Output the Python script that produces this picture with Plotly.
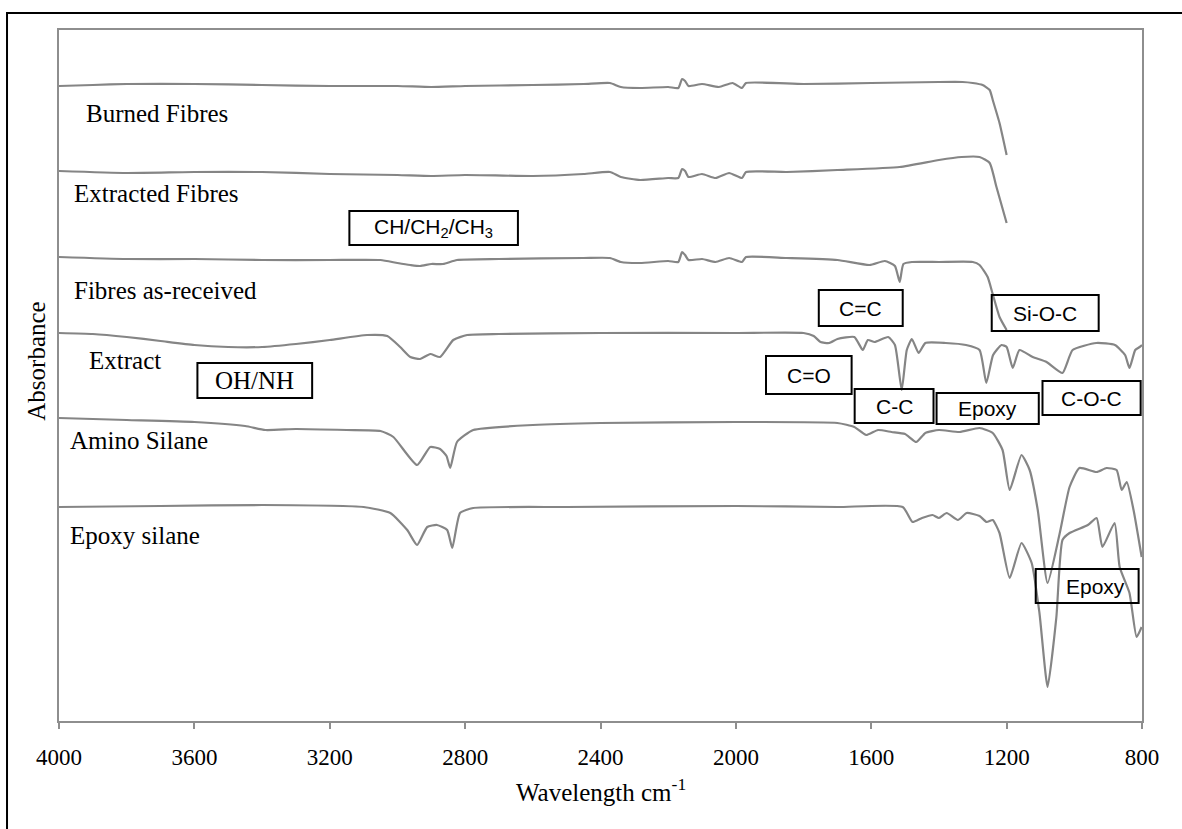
import plotly.graph_objects as go

# ---------------- data (wavenumber cm-1, absorbance a.u., offset spectra) ----------------
burned_wn = [4000, 3900, 3800, 3600, 3400, 3200, 3000, 2900, 2800, 2600, 2450, 2372, 2340, 2283, 2200,
             2170, 2159, 2150, 2140, 2100, 2050, 2010, 1982, 1970, 1800, 1600, 1400, 1330, 1300, 1271,
             1250, 1241, 1221, 1200]
burned_ab = [6.35, 6.36, 6.37, 6.37, 6.36, 6.35, 6.35, 6.34, 6.35, 6.36, 6.37, 6.38, 6.34, 6.33, 6.34,
             6.33, 6.42, 6.40, 6.35, 6.37, 6.34, 6.38, 6.33, 6.38, 6.37, 6.38, 6.39, 6.39, 6.38, 6.36,
             6.31, 6.21, 5.98, 5.66]

extracted_wn = [4000, 3800, 3600, 3400, 3200, 3000, 2900, 2800, 2600, 2450, 2372, 2340, 2283, 2200, 2170,
                2159, 2150, 2140, 2100, 2060, 2020, 1982, 1970, 1850, 1700, 1516, 1400, 1333, 1280, 1250,
                1230, 1200]
extracted_ab = [5.50, 5.48, 5.49, 5.49, 5.47, 5.46, 5.45, 5.46, 5.45, 5.47, 5.49, 5.44, 5.41, 5.43, 5.43,
                5.52, 5.50, 5.44, 5.47, 5.43, 5.48, 5.43, 5.49, 5.49, 5.51, 5.54, 5.61, 5.64, 5.64, 5.58,
                5.34, 4.98]

asrec_wn = [4000, 3800, 3600, 3400, 3200, 3050, 3000, 2962, 2933, 2900, 2865, 2824, 2700, 2450, 2372,
            2340, 2283, 2200, 2170, 2159, 2150, 2140, 2100, 2060, 2020, 1982, 1970, 1850, 1700, 1605,
            1560, 1530, 1516, 1505, 1480, 1400, 1300, 1280, 1256, 1242, 1221, 1200]
asrec_ab = [4.64, 4.62, 4.62, 4.61, 4.61, 4.61, 4.58, 4.56, 4.55, 4.57, 4.57, 4.61, 4.62, 4.63, 4.63,
            4.59, 4.58, 4.60, 4.59, 4.69, 4.66, 4.61, 4.62, 4.59, 4.63, 4.59, 4.64, 4.63, 4.61, 4.56,
            4.60, 4.55, 4.39, 4.57, 4.59, 4.59, 4.59, 4.56, 4.44, 4.28, 4.04, 3.91]

extract_wn = [4000, 3900, 3800, 3700, 3600, 3500, 3400, 3300, 3200, 3090, 3030, 2992, 2962, 2933, 2903,
              2874, 2835, 2794, 2700, 2400, 2000, 1800, 1770, 1750, 1725, 1700, 1650, 1625, 1610, 1590,
              1550, 1530, 1510, 1495, 1480, 1460, 1440, 1380, 1320, 1280, 1260, 1240, 1215, 1200, 1182,
              1162, 1123, 1082, 1035, 1005, 935, 880, 850, 837, 820, 807, 800]
extract_ab = [3.88, 3.87, 3.84, 3.80, 3.76, 3.74, 3.74, 3.77, 3.81, 3.86, 3.85, 3.74, 3.64, 3.62, 3.67,
              3.64, 3.81, 3.86, 3.87, 3.88, 3.88, 3.88, 3.85, 3.79, 3.78, 3.82, 3.84, 3.71, 3.81, 3.79,
              3.84, 3.76, 3.31, 3.71, 3.82, 3.68, 3.78, 3.78, 3.76, 3.71, 3.38, 3.66, 3.76, 3.74, 3.53,
              3.71, 3.64, 3.59, 3.48, 3.71, 3.78, 3.76, 3.66, 3.53, 3.71, 3.74, 3.76]

amino_wn = [4000, 3800, 3600, 3450, 3390, 3300, 3150, 3050, 3012, 2942, 2903, 2874, 2855, 2844, 2824,
            2776, 2600, 2400, 2000, 1700, 1650, 1615, 1580, 1540, 1500, 1467, 1440, 1400, 1339, 1280,
            1241, 1212, 1191, 1156, 1132, 1108, 1079, 1043, 1014, 985, 934, 905, 875, 860, 845,
            825, 801]
amino_ab = [3.03, 3.01, 2.99, 2.95, 2.91, 2.92, 2.91, 2.90, 2.84, 2.56, 2.74, 2.72, 2.65, 2.53, 2.79,
            2.91, 2.96, 2.98, 2.99, 2.98, 2.94, 2.86, 2.91, 2.89, 2.87, 2.79, 2.88, 2.91, 2.89, 2.93,
            2.88, 2.71, 2.31, 2.66, 2.51, 2.11, 1.38, 1.88, 2.34, 2.53, 2.49, 2.53, 2.51, 2.31, 2.39,
            2.11, 1.64]

epoxy_wn = [4000, 3700, 3400, 3100, 3021, 2971, 2942, 2912, 2883, 2853, 2838, 2815, 2776, 2500, 2000,
            1700, 1507, 1478, 1450, 1419, 1400, 1377, 1344, 1318, 1280, 1259, 1241, 1221, 1191, 1156,
            1126, 1103, 1079, 1053, 1035, 1014, 960, 934, 917, 881, 866, 837, 816, 801]
epoxy_ab = [2.14, 2.15, 2.16, 2.14, 2.08, 1.91, 1.76, 1.94, 1.96, 1.91, 1.73, 2.08, 2.13, 2.14, 2.15,
            2.14, 2.14, 1.99, 2.03, 2.06, 2.03, 2.08, 2.01, 2.08, 2.05, 1.99, 2.01, 1.88, 1.43, 1.78,
            1.58, 1.08, 0.34, 1.04, 1.81, 1.88, 1.96, 2.03, 1.74, 1.98, 1.54, 1.28, 0.84, 0.94]

series_names = ["Burned Fibres", "Extracted Fibres", "Fibres as-received", "Extract",
                "Amino Silane", "Epoxy silane"]
x_ticks = [4000, 3600, 3200, 2800, 2400, 2000, 1600, 1200, 800]

# band labels: text, box (wn_left, wn_right, ab_top, ab_bottom), text centre wn
band_labels = [
    ("CH/CH<sub>2</sub>/CH<sub>3</sub>", 3142, 2644, 5.10, 4.76, 2893, "sans"),
    ("C=C", 1755, 1507, 4.31, 3.95, 1631, "sans"),
    ("Si-O-C", 1244, 928, 4.26, 3.90, 1086, "sans"),
    ("C=O", 1911, 1658, 3.65, 3.27, 1784, "sans"),
    ("C-C", 1649, 1416, 3.32, 2.98, 1532, "sans"),
    ("Epoxy", 1407, 1105, 3.28, 2.97, 1256, "sans"),
    ("C-O-C", 1094, 804, 3.40, 3.06, 949, "sans"),
    ("Epoxy", 1114, 810, 1.52, 1.18, 937, "sans"),
    ("OH/NH", 3591, 3252, 3.58, 3.23, 3421, "serif"),
]

# series name labels: left wn, ab
name_pos = [(3925, 6.08), (3963, 5.28), (3963, 4.31), (3916, 3.61), (3972, 2.81), (3972, 1.86)]

# ---------------- figure ----------------
SERIF = "Liberation Serif, Times New Roman, serif"
SANS = "Liberation Sans, Arial, sans-serif"
LINE = "#858585"
AXIS = "#8e8e8e"

fig = go.Figure()
for wn, ab, nm in zip([burned_wn, extracted_wn, asrec_wn, extract_wn, amino_wn, epoxy_wn],
                      [burned_ab, extracted_ab, asrec_ab, extract_ab, amino_ab, epoxy_ab],
                      series_names):
    fig.add_trace(go.Scatter(x=wn, y=ab, mode="lines", name=nm,
                             line=dict(color=LINE, width=2.2, shape="spline", smoothing=0.5),
                             showlegend=False, hoverinfo="skip"))

annotations = []
for (lx, ly), nm in zip(name_pos, series_names):
    annotations.append(dict(x=lx, y=ly, xref="x", yref="y", text=nm, showarrow=False,
                            xanchor="left", yanchor="middle",
                            font=dict(family=SERIF, size=25, color="black")))

shapes = []
for text, x0, x1, y0, y1, xc, fam in band_labels:
    shapes.append(dict(type="rect", xref="x", yref="y", x0=x0, x1=x1, y0=y0, y1=y1,
                       line=dict(color="black", width=2), fillcolor="rgba(0,0,0,0)", layer="above"))
    annotations.append(dict(x=xc, y=(y0 + y1) / 2, xref="x", yref="y", text=text, showarrow=False,
                            xanchor="center", yanchor="middle",
                            font=dict(family=SERIF if fam == "serif" else SANS,
                                      size=25 if fam == "serif" else 21, color="black")))

# axis titles
annotations.append(dict(x=0.5, y=-0.1, xref="paper", yref="paper", text="Wavelength cm<sup>-1</sup>",
                        showarrow=False, xanchor="center", yanchor="middle",
                        font=dict(family=SERIF, size=25, color="black")))
annotations.append(dict(x=-0.0203, y=0.52, xref="paper", yref="paper", text="Absorbance",
                        showarrow=False, xanchor="center", yanchor="middle", textangle=-90,
                        font=dict(family=SERIF, size=25, color="black")))

# outer frame (left and top edges visible)
shapes.append(dict(type="path", xref="paper", yref="paper",
                   path="M -0.048,-0.3 L -0.048,1.0246 L 1.2,1.0246",
                   line=dict(color="black", width=2)))

fig.update_layout(
    width=1182, height=829,
    margin=dict(l=59, r=40, t=30, b=108),
    paper_bgcolor="white", plot_bgcolor="white",
    annotations=annotations, shapes=shapes,
    xaxis=dict(range=[4000, 800], tickvals=x_ticks, ticktext=[str(v) for v in x_ticks],
               showgrid=False, zeroline=False, showline=True, linecolor=AXIS, linewidth=2,
               mirror=True, ticks="outside", ticklen=6, tickwidth=2, tickcolor=AXIS,
               tickfont=dict(family=SERIF, size=23, color="black"), ticklabelstandoff=8),
    yaxis=dict(range=[0, 6.91], showticklabels=False, showgrid=False, zeroline=False,
               showline=True, linecolor=AXIS, linewidth=2, mirror=True, ticks=""),
)

fig.write_html("out.html", config={"displayModeBar": False},
               post_script="document.body.style.margin='0px';")
